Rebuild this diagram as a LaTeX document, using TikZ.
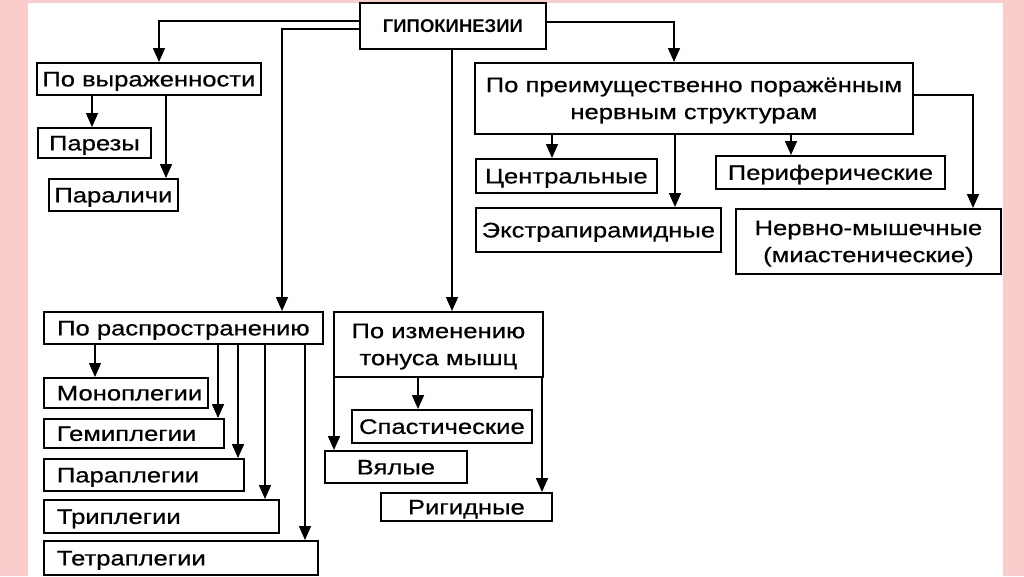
\documentclass[tikz,border=0pt]{standalone}
\usepackage{fontspec}
\setmainfont{Liberation Sans}[FakeStretch=1.22,FakeBold=0.6]
\newfontfamily\titlefont{Liberation Sans}
\usetikzlibrary{arrows.meta}
\definecolor{bgpink}{RGB}{250,204,204}
\tikzset{
  box/.style={draw=black, line width=1.8pt, fill=white, anchor=north west, inner sep=0pt,
    font=\fontsize{21}{27}\selectfont},
  one/.style={text height=15pt, text depth=0pt},
  two/.style={align=center, text depth=0pt},
  sz/.style 2 args={minimum width=#1, minimum height=#2},
  lbox/.style={box, one, inner xsep=13pt, text width=#1},
  arr/.style={line width=1.6pt, -{Triangle[length=14pt,width=12pt]}}
}
\begin{document}
\begin{tikzpicture}[x=1pt,y=-1pt]
\useasboundingbox (0,0) rectangle (1024,576);
\fill[bgpink] (0,0) rectangle (1024,576);
\fill[white] (28,3) rectangle (1003,576);

\node[box, one, sz={186pt}{46pt}, text height=13pt, font=\titlefont\bfseries\fontsize{18.5}{22}\selectfont] (top) at (359,2) {ГИПОКИНЕЗИИ};

\node[box, one, sz={224pt}{32pt}] (vyr) at (36,62) {По выраженности};
\node[box, one, sz={113pt}{30pt}] (parez) at (37,127) {Парезы};
\node[box, one, sz={129pt}{32pt}] (paral) at (48,178) {Параличи};

\node[box, two, sz={438pt}{71pt}] (pre) at (474,62) {По преимущественно поражённым\\нервным структурам};
\node[box, one, sz={181pt}{34pt}] (cent) at (475,158) {Центральные};
\node[box, one, sz={245pt}{44pt}] (extra) at (475,207) {Экстрапирамидные};
\node[box, one, sz={229pt}{33pt}] (peri) at (715,155) {Периферические};
\node[box, two, sz={265pt}{65pt}] (nm) at (735,208) {Нервно-мышечные\\(миастенические)};

\node[box, one, sz={279pt}{32pt}] (rasp) at (43,311) {По распространению};
\node[lbox={138pt}, minimum height=30pt] (mono) at (43,377) {Моноплегии};
\node[lbox={154pt}, minimum height=29pt] (gemi) at (43,418) {Гемиплегии};
\node[lbox={174pt}, minimum height=32pt] (para) at (43,458) {Параплегии};
\node[lbox={209pt}, minimum height=33pt] (tri) at (43,499) {Триплегии};
\node[lbox={248pt}, minimum height=34pt] (tetra) at (43,540) {Тетраплегии};

\node[box, two, sz={209pt}{65pt}] (izm) at (333,311) {По изменению\\тонуса мышц};
\node[box, one, sz={180pt}{33pt}] (spast) at (351,409) {Спастические};
\node[box, one, sz={142pt}{32pt}] (vyal) at (324,450) {Вялые};
\node[box, one, sz={171pt}{28pt}] (rig) at (380,492) {Ригидные};

% from top
\draw[arr] (top.west |- 0,21) -| (vyr.north -| 159,0);
\draw[arr] (top.west |- 0,29) -| (rasp.north -| 282,0);
\draw[arr] (top.south -| 452,0) -- (izm.north -| 452,0);
\draw[arr] (top.east |- 0,22) -| (pre.north -| 674,0);

% vyr
\draw[arr] (vyr.south -| 92,0) -- (parez.north -| 92,0);
\draw[arr] (vyr.south -| 166,0) -- (paral.north -| 166,0);

% pre
\draw[arr] (pre.south -| 552,0) -- (cent.north -| 552,0);
\draw[arr] (pre.south -| 675,0) -- (extra.north -| 675,0);
\draw[arr] (pre.south -| 791,0) -- (peri.north -| 791,0);
\draw[arr] (pre.east |- 0,95) -| (nm.north -| 973,0);

% rasp
\draw[arr] (rasp.south -| 95,0) -- (mono.north -| 95,0);
\draw[arr] (rasp.south -| 218,0) -- (gemi.north -| 218,0);
\draw[arr] (rasp.south -| 238,0) -- (para.north -| 238,0);
\draw[arr] (rasp.south -| 265,0) -- (tri.north -| 265,0);
\draw[arr] (rasp.south -| 305,0) -- (tetra.north -| 305,0);

% izm
\draw[arr] (izm.south -| 334,0) -- (vyal.north -| 334,0);
\draw[arr] (izm.south -| 418,0) -- (spast.north -| 418,0);
\draw[arr] (izm.south -| 542,0) -- (rig.north -| 542,0);
\end{tikzpicture}
\end{document}
